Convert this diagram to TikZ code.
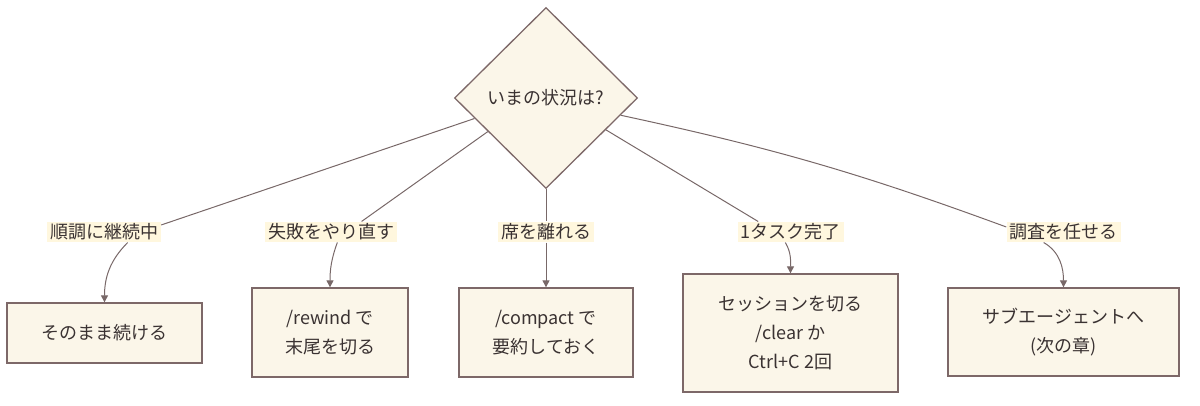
\documentclass[tikz,border=0pt]{standalone}
\usepackage{fontspec}
\setmainfont{Noto Sans CJK JP}
\usetikzlibrary{shapes,arrows.meta}

\definecolor{boxfill}{RGB}{251,246,233}
\definecolor{boxline}{RGB}{125,104,104}
\definecolor{lblfill}{RGB}{255,247,222}
\definecolor{ink}{RGB}{58,50,50}
\definecolor{wirecol}{RGB}{120,104,104}

\tikzset{
	choice/.style={diamond, draw=boxline, fill=boxfill, line width=1.3pt, inner sep=0pt,
		minimum width=183pt, minimum height=181pt, text=ink},
	stepbox/.style={rectangle, draw=boxline, fill=boxfill, line width=1.3pt, inner sep=0pt,
		align=center, text=ink},
	cond/.style={fill=lblfill, inner xsep=3pt, inner ysep=2pt, text=ink},
	wire/.style={draw=wirecol, line width=1pt},
	arr/.style={wire, -{Triangle[length=7pt,width=7pt]}},
}

\begin{document}
\begin{tikzpicture}[x=1pt,y=1pt,font=\fontsize{18}{29}\selectfont]
	\useasboundingbox (0,0) rectangle (1200,-406);
	% question
	\node[choice] (q) at (546,-98) {いまの状況は?};
	% edge labels
	\node[cond] (l1) at (104,-232) {順調に継続中};
	\node[cond] (l2) at (331,-232) {失敗をやり直す};
	\node[cond] (l3) at (546,-232) {席を離れる};
	\node[cond] (l4) at (790.5,-232) {1タスク完了};
	\node[cond] (l5) at (1063.5,-232) {調査を任せる};
	% actions
	\node[stepbox, minimum width=195pt, minimum height=60pt] (b1) at (104.5,-333) {そのまま続ける};
	\node[stepbox, minimum width=156pt, minimum height=89pt] (b2) at (330,-332.5) {/rewind で\\末尾を切る};
	\node[stepbox, minimum width=174pt, minimum height=89pt] (b3) at (546,-332.5) {/compact で\\要約しておく};
	\node[stepbox, minimum width=215pt, minimum height=118pt] (b4) at (790.5,-333) {セッションを切る\\/clear か\\Ctrl+C 2回};
	\node[stepbox, minimum width=231pt, minimum height=88pt] (b5) at (1063.5,-332) {サブエージェントへ\\(次の章)};
	% question -> labels
	\draw[wire] (q.196) -- (l1.7);
	\draw[wire] (q.210) -- (l2.19);
	\draw[wire] (q.south) -- (l3.north);
	\draw[wire] (q.332) -- (l4.162);
	\draw[wire] (q.347) to[bend left=4] (l5.175);
	% labels -> actions
	\draw[arr] (l1.-24) to[out=225,in=90] (b1.north);
	\draw[arr] (l2.-59) to[out=250,in=90] (b2.north);
	\draw[arr] (l3.south) -- (b3.north);
	\draw[arr] (l4.-116) to[out=300,in=90] (b4.north);
	\draw[arr] (l5.-152) to[out=330,in=90] (b5.north);
\end{tikzpicture}
\end{document}
